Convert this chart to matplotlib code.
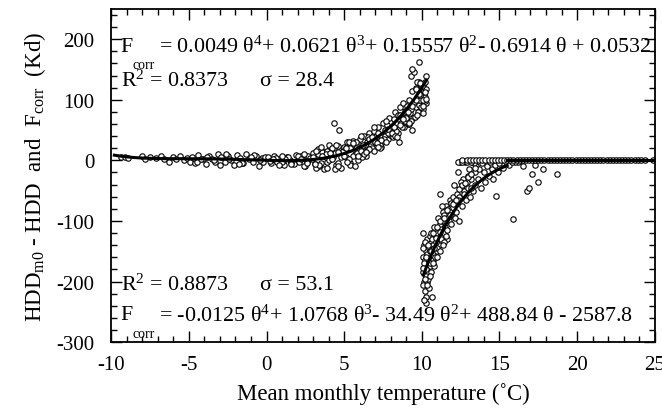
import numpy as np
import matplotlib
matplotlib.use("Agg")
import matplotlib.pyplot as plt
from matplotlib.ticker import MultipleLocator

plt.rcParams['font.family'] = ['Liberation Serif', 'DejaVu Serif']
plt.rcParams['mathtext.fontset'] = 'custom'
plt.rcParams['mathtext.rm'] = 'Liberation Serif'
plt.rcParams['mathtext.it'] = 'Liberation Serif:italic'
plt.rcParams['mathtext.bf'] = 'Liberation Serif:bold'
plt.rcParams['axes.unicode_minus'] = False

# ---------------- data ----------------
# heating branch (theta < ~10.5)
heat_x = [-9.4, -9.1, -8.9, -8.0, -7.8, -7.5, -7.1, -6.8, -6.6, -6.3, -6.0, -5.8, -5.6, -5.3, -5.1, -4.9,
          -4.8, -4.6, -4.4, -4.1, -3.9, -3.7, -3.5, -3.3, -3.1, -2.9, -2.7, -2.5, -2.3, -2.1, -1.9, -1.7,
          -1.5, -1.3, -1.1, -0.9, -0.7, -0.5, -0.3, -0.1, -4.5, -3.8, -3.0, -2.4, -1.6, -0.8, -0.2,
          -4.2, -3.4, -2.6, -1.8, -1.0, -0.4,
          0.1, 0.3, 0.5, 0.7, 0.9, 1.1, 1.3, 1.5, 1.7, 1.9, 2.1, 2.3, 2.5, 2.7, 2.9, 3.1, 3.3, 3.5, 3.7,
          3.9, 4.1, 4.3, 4.5, 4.7, 4.9, 0.2, 0.6, 1.0, 1.4, 1.8, 2.2, 2.6, 3.0, 3.4, 3.8, 4.2, 4.6, 5.0,
          0.4, 0.8, 1.2, 1.6, 2.0, 2.4, 2.8, 3.2, 3.6, 4.0, 4.4, 4.8, 3.3, 3.5, 3.7, 3.9, 4.0, 4.2, 4.4,
          4.6, 4.8, 4.35, 4.7,
          5.1, 5.2, 5.3, 5.4, 5.5, 5.6, 5.7, 5.8, 5.9, 6.0, 6.1, 6.2, 6.3, 6.4, 6.5, 6.6, 6.7, 6.8, 6.9,
          7.0, 7.1, 7.2, 7.3, 7.4, 7.5, 7.6, 7.7, 7.8, 7.9, 8.0, 5.15, 5.35, 5.55, 5.75, 5.95, 6.15, 6.35,
          6.55, 6.75, 6.95, 7.15, 7.35, 7.55, 7.75, 7.95, 5.3, 5.7, 6.1, 6.5, 6.9, 7.3, 7.7,
          8.05, 8.1, 8.2, 8.25, 8.3, 8.4, 8.45, 8.5, 8.6, 8.65, 8.7, 8.8, 8.85, 8.9, 9.0, 9.05, 9.1, 9.2,
          9.25, 9.3, 9.4, 9.45, 9.5, 9.6, 9.65, 9.7, 9.8, 9.85, 9.9, 10.0, 10.05, 10.1, 10.15, 10.2, 10.25,
          10.3, 8.15, 8.35, 8.55, 8.75, 8.95, 9.15, 9.35, 9.55, 9.75, 9.95, 10.1, 10.2, 9.3, 9.5, 9.6,
          9.7, 9.9, 10.0, 10.1, 10.2, 9.4, 9.8,
          2.2, 2.6, 3.0, 3.4, 3.8, 4.2, 4.6, 5.0, 5.4, 5.8, 6.2, 6.6, 7.0, 7.4, 7.8, 8.2, 8.6, 9.0, 9.4,
          9.8, 10.2, 3.1, 3.6, 4.1, 4.6, 5.1, 5.6, 6.1, 6.6, 7.1, 7.6, 8.1, 8.6, 9.1, 9.6, 10.1,
          5.3, 6.3, 7.3, 8.3, 9.3, 10.3, 6.8, 7.8, 8.8, 9.9,
          1.0, 1.6, 2.4, 3.2, 3.9, 4.5, 5.2, 5.9, 6.4, 7.2, 7.7, 8.4, 9.2, 9.7, 10.25]
heat_y = [5, 6, 4, 8, 3, 5, 4, 7, 2, -3, 6, 3, 8, 1, 4, -2,
          6, -4, 9, 2, -6, 8, 3, -2, 10, 5, -3, 7, 0, -8, 9, 4,
          -5, 11, 2, -3, 8, -10, 4, 6, -2, 5, -7, 3, -4, 9, -2,
          3, 0, 10, -6, 5, 1,
          5, -4, 8, -2, 3, -8, 6, 0, -5, 9, -3, 4, -9, 7, 2, -6, 10, -4, 13,
          -2, 18, 5, -8, 20, 15, -1, 4, -3, 6, -6, 8, -2, 12, -10, 5, 9, -5, 22,
          2, -7, 3, -4, 7, -9, 4, -12, 14, 0, 12, 6, 18, 22, -15, 15, 25, 20, -14,
          24, -12, 62, 50,
          5, 30, 18, -5, 25, 32, 10, 28, 0, 35, 15, 22, 40, 8, 30, 45, 25, 20, 48,
          38, 30, 55, 42, 28, 62, 40, 50, 35, 70, 48, 20, -8, 8, 30, 18, 5, 26,
          38, 32, 15, 45, 22, 35, 58, 42, 30, -10, 40, 15, 55, 25, 65,
          55, 40, 68, 50, 80, 60, 45, 75, 88, 62, 70, 95, 55, 82, 72, 90, 60, 100,
          78, 85, 115, 70, 95, 120, 88, 105, 130, 92, 100, 110, 125, 85, 115, 105, 95,
          118, 38, 48, 30, 55, 65, 60, 50, 72, 80, 88, 78, 98, 140, 145, 118,
          130, 108, 122, 100, 112, 150, 162,
          3, -4, 6, -8, 10, 2, 14, 8, 20, 12, 25, 18, 30, 34, 45, 55, 58, 70, 90,
          110, 130, -6, 8, 12, -10, 20, 28, 15, 35, 28, 50, 45, 75, 80, 100, 90,
          2, 10, 20, 40, 65, 140, 38, 52, 68, 128,
          7, -6, 10, 16, -12, 26, -3, 8, 14, 22, 30, 38, 62, 75, 102]

# cooling-side branch (theta > ~10)
cool_x = [10.05, 10.1, 10.1, 10.15, 10.15, 10.2, 10.2, 10.25, 10.25, 10.3, 10.3, 10.35, 10.35, 10.4, 10.4,
          10.45, 10.45, 10.5, 10.5, 10.1, 10.2, 10.3, 10.4, 10.05, 10.15, 10.25, 10.35, 10.45, 10.3, 10.2,
          10.55, 10.6, 10.65, 10.7, 10.75, 10.8, 10.85, 10.9, 10.95, 11.0, 11.05, 11.1, 11.15, 11.2, 11.25,
          11.3, 11.35, 11.4, 11.45, 11.5, 11.55, 11.6, 11.65, 11.7, 11.75, 11.8, 11.85, 11.9, 11.95, 12.0,
          10.6, 10.8, 11.0, 11.2, 11.4, 11.6, 11.8, 10.65, 10.9, 11.3,
          12.05, 12.1, 12.2, 12.25, 12.3, 12.4, 12.45, 12.5, 12.6, 12.65, 12.7, 12.8, 12.85, 12.9, 13.0,
          13.05, 13.1, 13.2, 13.25, 13.3, 13.4, 13.45, 13.5, 12.15, 12.35, 12.55, 12.75, 12.95, 13.15, 13.35,
          12.3, 12.6, 12.9, 13.2, 12.4,
          13.6, 13.7, 13.8, 13.9, 14.0, 14.1, 14.2, 14.3, 14.4, 14.5, 14.6, 14.7, 14.8, 14.9, 15.0, 15.2,
          15.4, 15.6, 15.9, 16.2, 16.8, 16.9, 17.5, 17.1, 17.8, 18.7, 16.5, 17.3, 16.0, 15.8,
          10.1, 10.2, 10.3, 10.4, 10.5, 10.6, 10.7, 10.8, 10.9, 11.0, 11.2, 11.4, 11.6, 11.8, 12.0,
          12.2, 12.4, 12.6, 12.8, 13.0, 13.2, 13.4, 10.15, 10.35, 10.55, 10.75, 10.95, 11.15, 11.35, 11.55]
cool_y = [-160, -185, -120, -200, -140, -175, -215, -150, -190, -235, -170, -130, -200, -160, -185,
          -145, -210, -175, -125, -205, -165, -180, -195, -145, -170, -190, -155, -165, -225, -135,
          -150, -185, -130, -165, -140, -110, -160, -125, -150, -120, -95, -140, -105, -55, -130,
          -100, -85, -120, -90, -110, -75, -95, -130, -80, -100, -65, -105, -70, -90, -60,
          -120, -175, -145, -100, -135, -115, -85, -225, -135, -75,
          -70, -40, -85, -55, -20, -60, -2, -45, -75, -30, -50, -2, -65, -35, -45,
          -15, -60, -30, -2, -50, -20, -40, -10, -95, -65, -35, -55, -25, -45, -5,
          -2, -2, -2, -2, -100,
          -30, -15, -45, -5, -20, -35, -10, -25, -2, -15, -30, -8, -59, -20, -5, -12,
          -2, -8, -96, -3, -50, -45, -35, -23, -15, -23, -10, -8, -3, -2,
          -178, -195, -160, -140, -170, -150, -120, -145, -128, -110, -118, -95, -82, -90, -72,
          -65, -48, -40, -38, -28, -22, -12, -230, -205, -190, -170, -160, -150, -140, -125]

# points lying on zero (no correction needed)
zero_x = [12.6, 12.9, 13.1, 13.3, 13.5, 13.7, 13.9, 14.1, 14.3, 14.5, 14.7, 14.9, 15.1, 15.3, 15.5,
          15.7, 15.9, 16.1, 16.3, 16.5, 16.7, 16.9, 17.1, 17.3, 17.5, 17.7, 17.9, 18.1, 18.3, 18.5,
          18.7, 18.9, 19.1, 19.3, 19.5, 19.7, 19.9, 20.1, 20.3, 20.5, 20.7, 20.9, 21.1, 21.3, 21.5,
          21.7, 21.9, 22.1, 22.3, 22.5, 22.7, 22.9, 23.1, 23.3, 23.5, 23.7, 23.9, 24.1, 24.4, 24.9]
zero_y = [0, 0, 0, 0, 0, 0, 0, 0, 0, 0, 0, 0, 0, 0, 0,
          0, 0, 0, 0, 0, 0, 0, 0, 0, 0, 0, 0, 0, 0, 0,
          0, 0, 0, 0, 0, 0, 0, 0, 0, 0, 0, 0, 0, 0, 0,
          0, 0, 0, 0, 0, 0, 0, 0, 0, 0, 0, 0, 0, 0, 0]

# fitted polynomial coefficients (highest power first), as printed on the chart
fit1_coef = [0.0049, 0.0621, 0.15557, -0.6914, 0.0532]
fit1_range = [-9.8, 10.3]
fit2_coef = [-0.0125, 1.0768, -34.49, 488.84, -2587.8]
fit2_range = [10.1, 15.5]
flat_range = [15.5, 25.0]

# ---------------- plot ----------------
fig = plt.figure(figsize=(6.62, 4.10), dpi=100)
ax = fig.add_axes([0.168, 0.163, 0.821, 0.813])

mk = dict(marker='o', linestyle='none', markersize=3.9, markerfacecolor='white',
          markeredgecolor='black', markeredgewidth=0.8)
ax.plot(heat_x, heat_y, **mk)
ax.plot(cool_x, cool_y, **mk)
ax.plot(zero_x, zero_y, **mk)

t1 = np.linspace(fit1_range[0], fit1_range[1], 200)
ax.plot(t1, np.polyval(fit1_coef, t1), color='black', lw=2.2)
t2 = np.linspace(fit2_range[0], fit2_range[1], 200)
y2 = np.minimum(np.polyval(fit2_coef, t2), 0)
ax.plot(t2, y2, color='black', lw=2.2)
ax.plot(flat_range, [0, 0], color='black', lw=2.2)

ax.set_xlim(-10, 25)
ax.set_ylim(-300, 250)
ax.xaxis.set_major_locator(MultipleLocator(5))
ax.xaxis.set_minor_locator(MultipleLocator(1))
ax.set_yticks([-300, -200, -100, 0, 100, 200])
ax.yaxis.set_minor_locator(MultipleLocator(20))
ax.tick_params(which='both', direction='in', top=True, right=True, width=1.0, labelsize=15)
ax.tick_params(which='major', length=8)
ax.tick_params(which='minor', length=4)
ax.tick_params(axis='y', which='major', pad=12)
ax.tick_params(axis='x', which='major', pad=9)
for s in ax.spines.values():
    s.set_linewidth(1.3)

ax.set_xlabel('Mean monthly temperature (\u02daC)', fontsize=16.5, labelpad=6)
ax.set_ylabel(r'HDD$_{\rm m0}$ - HDD  and  F$_{\rm corr}$  (Kd)', fontsize=16.5, labelpad=6)

fs = 15.8
sub_fs = 10
# top equation: F, lowered subscript "corr", then the polynomial
ax.text(-9.4, 188, 'F', fontsize=fs, va='center', ha='left')
ax.text(-8.65, 158, 'corr', fontsize=sub_fs, va='center', ha='left')
ax.text(-6.9, 188, r'= 0.0049 θ$^{4}$+ 0.0621 θ$^{3}$+ 0.15557 θ$^{2}$- 0.6914 θ + 0.0532',
        fontsize=fs, va='center', ha='left')
ax.text(-9.4, 132, r'R$^{2}$ = 0.8373', fontsize=fs, va='center', ha='left')
ax.text(-0.4, 132, 'σ = 28.4', fontsize=fs, va='center', ha='left')
ax.text(-9.4, -205, r'R$^{2}$ = 0.8873', fontsize=fs, va='center', ha='left')
ax.text(-0.4, -205, 'σ = 53.1', fontsize=fs, va='center', ha='left')
ax.text(-9.4, -255, 'F', fontsize=fs, va='center', ha='left')
ax.text(-8.65, -285, 'corr', fontsize=sub_fs, va='center', ha='left')
ax.text(-6.9, -255, r'= -0.0125 θ$^{4}$+ 1.0768 θ$^{3}$- 34.49 θ$^{2}$+ 488.84 θ - 2587.8',
        fontsize=fs, va='center', ha='left')

fig.savefig('out.png', dpi=100)
